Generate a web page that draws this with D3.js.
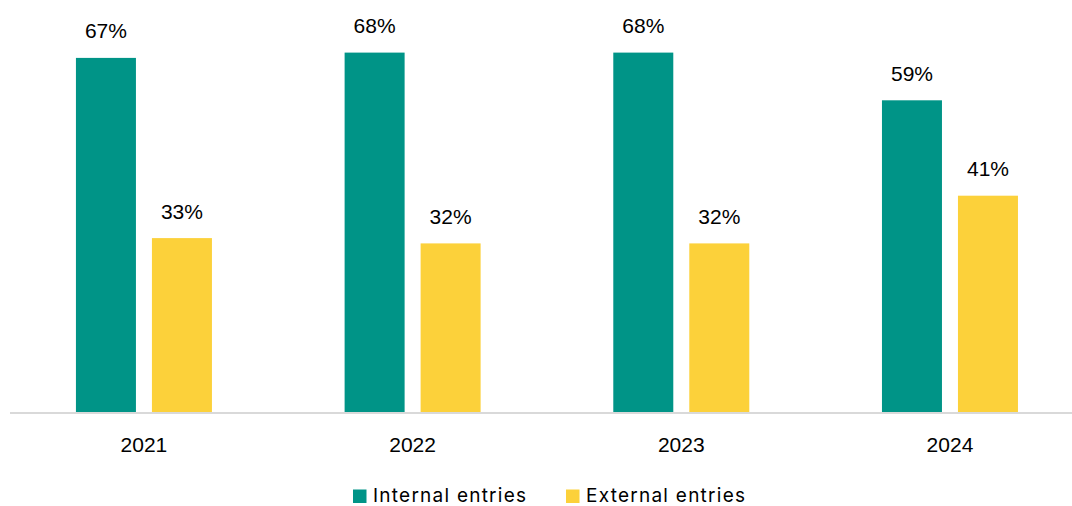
<!DOCTYPE html>
<html>
<head>
<meta charset="utf-8">
<script src="https://cdn.jsdelivr.net/npm/d3@7"></script>
<style>
  html, body { margin: 0; padding: 0; background: #fff; }
  svg { display: block; }
</style>
</head>
<body>
<svg id="chart" width="1072" height="506"></svg>
<script>
// Share of entries by source, per year (percent)
const years = ["2021", "2022", "2023", "2024"];
const seriesNames = ["Internal entries", "External entries"];
const internalValues = [67, 68, 68, 59];
const externalValues = [33, 32, 32, 41];
const seriesColors = ["#009487", "#FCD13A"];

const rows = years.map((yr, i) => ({
  year: yr,
  values: [
    { key: seriesNames[0], value: internalValues[i] },
    { key: seriesNames[1], value: externalValues[i] }
  ]
}));

const svg = d3.select("#chart");
const baseline = 413;

const x0 = d3.scaleBand().domain(years).range([9.6, 1084.3]).padding(0);
const groupWidth = 136;
const x1 = d3.scaleBand().domain(seriesNames).range([0, groupWidth])
  .paddingInner(16 / 76).paddingOuter(0);
const y = d3.scaleLinear().domain([0, 100]).range([baseline, baseline - 530]);
const color = d3.scaleOrdinal().domain(seriesNames).range(seriesColors);

const labelFont = "'Liberation Sans', Arial, sans-serif";

// Bars
const groups = svg.append("g").selectAll("g")
  .data(rows).join("g")
  .attr("transform", d => `translate(${x0(d.year) + (x0.bandwidth() - groupWidth) / 2},0)`);

groups.selectAll("rect")
  .data(d => d.values).join("rect")
  .attr("x", d => x1(d.key))
  .attr("y", d => y(d.value))
  .attr("width", x1.bandwidth())
  .attr("height", d => y(0) - y(d.value))
  .attr("fill", d => color(d.key));

// Value labels
groups.selectAll("text")
  .data(d => d.values).join("text")
  .attr("x", d => x1(d.key) + x1.bandwidth() / 2)
  .attr("y", d => y(d.value) - 19.5)
  .attr("text-anchor", "middle")
  .attr("font-family", labelFont)
  .attr("font-size", 21)
  .attr("fill", "#000")
  .text(d => d.value + "%");

// Category axis
const xAxis = svg.append("g")
  .attr("transform", `translate(0,${baseline})`)
  .call(d3.axisBottom(x0).tickSize(0).tickPadding(0));
xAxis.select(".domain").remove();
xAxis.append("line")
  .attr("x1", 10).attr("x2", 1072)
  .attr("y1", 0).attr("y2", 0)
  .attr("stroke", "#d9d9d9").attr("stroke-width", 2);
xAxis.selectAll(".tick text")
  .attr("y", 38.7)
  .attr("dy", 0)
  .attr("font-family", labelFont)
  .attr("font-size", 21)
  .attr("fill", "#000");

// Legend
const legendItems = [
  { key: seriesNames[0], x: 353, len: 153 },
  { key: seriesNames[1], x: 566, len: 159 }
];
const legend = svg.append("g").selectAll("g")
  .data(legendItems).join("g")
  .attr("transform", d => `translate(${d.x},0)`);
legend.append("rect")
  .attr("x", 0).attr("y", 489.5)
  .attr("width", 13.5).attr("height", 13.5)
  .attr("fill", d => color(d.key));
legend.append("text")
  .attr("x", 20).attr("y", 502)
  .attr("font-family", "Inter, 'Open Sans', sans-serif")
  .attr("font-size", 19)
  .attr("textLength", d => d.len)
  .attr("lengthAdjust", "spacing")
  .attr("fill", "#000")
  .text(d => d.key);
</script>
</body>
</html>
